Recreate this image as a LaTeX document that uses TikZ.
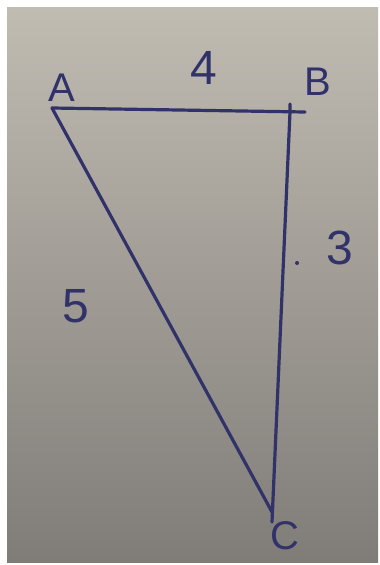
\documentclass[tikz,border=0pt]{standalone}
\usepackage{fontspec}
\setmainfont{Liberation Sans}
\begin{document}
\begin{tikzpicture}[x=1pt,y=-1pt,
  ink/.style={draw=inkc,line width=3.2pt,line cap=round,line join=round},
  lbl/.style={text=inkc,font=\fontsize{40}{40}\selectfont,inner sep=0pt},
  num/.style={text=inkc,font=\fontsize{48}{48}\selectfont,inner sep=0pt}]
\definecolor{inkc}{RGB}{48,50,105}
\useasboundingbox (0,0) rectangle (380,565);
\fill[white] (0,0) rectangle (380,565);
\shade[top color={rgb,255:red,192;green,188;blue,178},bottom color={rgb,255:red,128;green,124;blue,120}] (7,7) rectangle (378,562);
% vertices
\coordinate (A) at (52,108);
\coordinate (Bend) at (305,112);
\coordinate (Btop) at (290,104);
\coordinate (B) at (290,112);
\coordinate (C) at (272,522);
\coordinate (Cl) at (272,512);
\draw[ink] (A) -- (Bend);
\draw[ink] (Btop) -- (B) -- (C);
\draw[ink] (A) -- (Cl);
\fill[inkc] (297,263) circle (2pt);
% labels
\node[lbl] (la) at (62,88) {A};
\node[lbl] (lb) at (318,82) {B};
\node[lbl] (lc) at (285,536) {C};
\node[num] (n4) at (204,68) {4};
\node[num] (n3) at (340,248) {3};
\node[num] (n5) at (76,306) {5};
\end{tikzpicture}
\end{document}
